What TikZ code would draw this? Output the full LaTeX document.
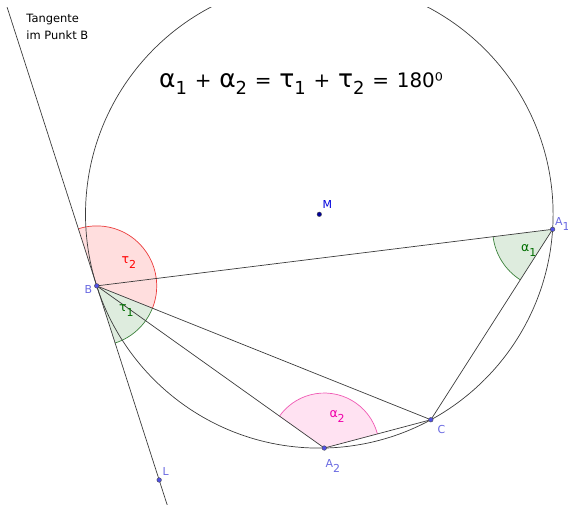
\documentclass[tikz,border=0pt]{standalone}
\usepackage{fontspec}
\setmainfont{DejaVu Sans}
\usetikzlibrary{angles,calc}
\definecolor{ptlabel}{RGB}{105,105,225}
\definecolor{ptfill}{RGB}{80,80,230}
\definecolor{mblue}{RGB}{0,0,220}
\definecolor{tauR}{RGB}{235,60,60}
\definecolor{tauRtext}{RGB}{255,0,0}
\definecolor{tauRfill}{RGB}{255,222,222}
\definecolor{grn}{RGB}{0,110,0}
\definecolor{grnline}{RGB}{60,130,60}
\definecolor{grnfill}{RGB}{222,236,222}
\definecolor{mag}{RGB}{240,0,170}
\definecolor{magline}{RGB}{240,90,180}
\definecolor{magfill}{RGB}{255,226,242}
\definecolor{linecol}{RGB}{60,60,60}
\newcommand\lsub[2]{#1\raisebox{-4.8bp}{\fontsize{11}{11}\selectfont #2}}
\newcommand\asub[2]{{\fontsize{12.5}{12.5}\selectfont #1}\raisebox{-4.5bp}{\fontsize{11}{11}\selectfont #2}}
\newcommand\fsub[1]{\raisebox{-7.7bp}{\fontsize{18}{18}\selectfont #1}}
\newcommand\gk[1]{{\fontsize{25}{25}\selectfont #1}}
\newcommand\fsp{\hspace{7.8bp}}
\begin{document}
\begin{tikzpicture}[x=1bp,y=1bp,
  geo/.style={line width=0.7bp, draw=linecol},
  pt/.style={circle, inner sep=0pt, minimum size=4.6bp, fill=ptfill, draw=black!70, line width=0.4bp},
  mpt/.style={circle, inner sep=0pt, minimum size=4.6bp, fill=mblue!70!black, draw=black!70, line width=0.4bp},
  ptlab/.style={text=ptlabel, font=\fontsize{11}{12}\selectfont, inner sep=0pt, anchor=base west},
  anglab/.style={font=\fontsize{12}{12}\selectfont, inner sep=0pt, anchor=base west},
  ang/.style={angle radius=60bp, line width=0.7bp},
]
\useasboundingbox (0,0) rectangle (568,505);
\def\R{233.8}
\coordinate (M) at (319.3,290.7);
\coordinate (B) at ($(M)+(197.83:\R)$);
\coordinate (A1) at ($(M)+(-3.68:\R)$);
\coordinate (C) at ($(M)+(-61.5:\R)$);
\coordinate (A2) at ($(M)+(-88.78:\R)$);
\coordinate (T) at ($(B)+(107.83:330)$);
\coordinate (Tb) at ($(B)+(-72.17:260)$);
\coordinate (L) at ($(B)+(-72.17:203.9)$);
% angle sectors
\pic[ang, draw=tauR, fill=tauRfill] {angle = C--B--T};
\pic[ang, draw=grnline, fill=grnfill] {angle = L--B--C};
\pic[ang, draw=grnline, fill=grnfill] {angle = B--A1--C};
\pic[ang, angle radius=55bp, draw=magline, fill=magfill] {angle = C--A2--B};
% circle and tangent
\begin{scope}
\clip (0,0) rectangle (568,497);
\draw[geo] (M) circle[radius=\R];
\draw[geo] (T) -- (Tb);
\end{scope}
% chords
\draw[geo] (B) -- (A1);
\draw[geo] (A1) -- (C);
\draw[geo] (B) -- (C);
\draw[geo] (B) -- (A2);
\draw[geo] (A2) -- (C);
% points
\node[pt] (Bp) at (B) {};
\node[pt] (A1p) at (A1) {};
\node[pt] (Cp) at (C) {};
\node[pt] (A2p) at (A2) {};
\node[pt] (Lp) at (L) {};
\node[mpt] (Mp) at (M) {};
% point labels
\node[ptlab] (Blab) at (84.5,211.7) {B};
\node[ptlab] (A1lab) at (555,279) {\lsub{A}{1}};
\node[ptlab] (Clab) at (437.5,71.7) {C};
\node[ptlab] (A2lab) at (325.5,37.3) {\lsub{A}{2}};
\node[ptlab] (Llab) at (162.5,29) {L};
\node[ptlab, text=mblue] (Mlab) at (322.5,296) {M};
% angle labels
\node[anglab, text=tauRtext] (tau2) at (121.5,241) {\asub{τ}{2}};
\node[anglab, text=grn] (tau1) at (119,193.3) {\asub{τ}{1}};
\node[anglab, text=grn] (alpha1) at (521,253.3) {\asub{α}{1}};
\node[anglab, text=mag] (alpha2) at (329.3,87.3) {\asub{α}{2}};
% texts
\node[anchor=base west, align=left, inner sep=0pt, font=\fontsize{11.5}{17.3}\selectfont] (tang) at (26.3,465) {Tangente\\im Punkt B};
\node[anchor=base west, inner sep=0pt, font=\fontsize{20}{20}\selectfont] (formula) at (159,417.7)
  {\gk{α}\fsub{1}\fsp+\fsp\gk{α}\fsub{2}\fsp=\fsp\gk{τ}\fsub{1}\fsp+\fsp\gk{τ}\fsub{2}\fsp=\fsp180⁰};
\end{tikzpicture}
\end{document}
